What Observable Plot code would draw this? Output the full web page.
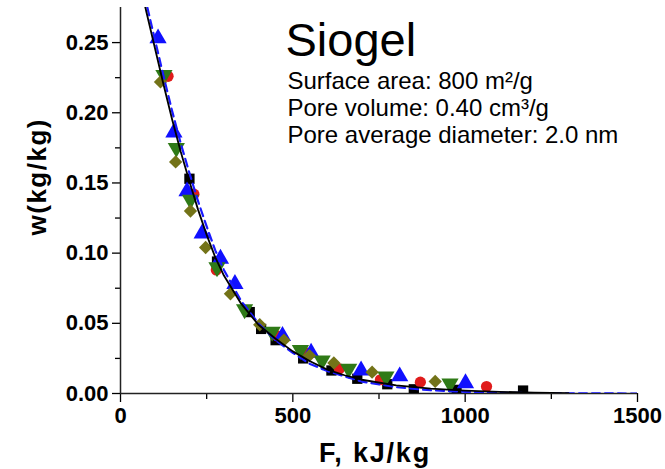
<!DOCTYPE html>
<html>
<head>
<meta charset="utf-8">
<script src="https://cdn.jsdelivr.net/npm/d3@7"></script>
<script src="https://cdn.jsdelivr.net/npm/@observablehq/plot@0.6"></script>
<style>
  html, body { margin: 0; padding: 0; background: #fff; }
  #chart { width: 665px; height: 469px; }
</style>
</head>
<body>
<div id="chart"></div>
<script>
// ---- data ----
const xTicks = [0, 500, 1000, 1500];
const xMinorTicks = [250, 750, 1250];
const yTicks = [0, 0.05, 0.10, 0.15, 0.20, 0.25];
const yMinorTicks = [0.025, 0.075, 0.125, 0.175, 0.225];

const titleText = "Siogel";
const infoLines = ["Surface area: 800 m²/g", "Pore volume: 0.40 cm³/g", "Pore average diameter: 2.0 nm"];
const xTitle = "F, kJ/kg";
const yTitle = "w(kg/kg)";

// black solid fitted curve
const fitF = [60, 75, 100, 125, 150, 175, 200, 225, 250, 275, 300, 350, 400, 450, 500, 550, 600, 650, 700, 800, 900, 1000, 1100, 1200, 1300];
const fitW = [0.288, 0.272, 0.246, 0.220, 0.195, 0.172, 0.151, 0.131, 0.113, 0.097, 0.084, 0.064, 0.049, 0.039, 0.030, 0.023, 0.017, 0.013, 0.0098, 0.0058, 0.0035, 0.0021, 0.0012, 0.0006, 0.0003];

// blue dashed curve
const dashF = [60, 75, 100, 125, 150, 175, 200, 225, 250, 275, 300, 350, 400, 450, 500, 550, 600, 700, 800, 900, 1000, 1100, 1200, 1300, 1400, 1500];
const dashW = [0.293, 0.278, 0.252, 0.226, 0.201, 0.178, 0.157, 0.137, 0.119, 0.102, 0.088, 0.066, 0.050, 0.038, 0.029, 0.021, 0.016, 0.0085, 0.0045, 0.0023, 0.0012, 0.0006, 0.0003, 0.0001, 0.00005, 0];

// black squares
const sqF = [200, 280, 375, 408, 450, 530, 612, 687, 774, 851, 975, 1168];
const sqW = [0.153, 0.094, 0.058, 0.046, 0.038, 0.025, 0.0164, 0.0105, 0.0066, 0.003, 0.0026, 0.0021];

// red circles
const ciF = [138, 213, 278, 455, 538, 635, 754, 870, 1062];
const ciW = [0.226, 0.142, 0.088, 0.041, 0.029, 0.0176, 0.0098, 0.0081, 0.005];

// blue up-triangles
const upF = [109, 155, 193, 237, 290, 332, 470, 553, 698, 810, 1001];
const upW = [0.253, 0.186, 0.144, 0.114, 0.096, 0.078, 0.041, 0.029, 0.0164, 0.0122, 0.0073];

// green down-triangles
const dnF = [126, 162, 203, 280, 360, 440, 522, 585, 662, 770, 956];
const dnW = [0.227, 0.175, 0.138, 0.090, 0.060, 0.044, 0.031, 0.0235, 0.0176, 0.0121, 0.0071];

// olive diamonds
const diF = [116, 160, 203, 247, 319, 404, 474, 548, 619, 730, 913];
const diW = [0.222, 0.165, 0.130, 0.104, 0.071, 0.049, 0.038, 0.027, 0.0218, 0.0152, 0.0086];

const pts = (F, W) => F.map((f, i) => ({F: f, w: W[i]}));

const font = "'Liberation Sans', Arial, Helvetica, sans-serif";

const plot = Plot.plot({
  width: 665,
  height: 469,
  marginLeft: 120,
  marginRight: 28,
  marginTop: 7,
  marginBottom: 76,
  style: {fontFamily: font, fontSize: "22px", color: "#000", background: "#fff", overflow: "visible"},
  x: {domain: [0, 1500], label: null},
  y: {domain: [0, 0.275], label: null},
  marks: [
    // axes
    Plot.axisX({ticks: xMinorTicks, tickSize: 6, tickFormat: () => "", strokeWidth: 1.3}),
    Plot.axisX({ticks: xTicks, tickSize: 9, tickPadding: 5, tickFormat: d => String(d), fontWeight: "bold", fontSize: 22, strokeWidth: 1.3}),
    Plot.axisY({ticks: yMinorTicks, tickSize: 5, tickFormat: () => "", strokeWidth: 1.3}),
    Plot.axisY({ticks: yTicks, tickSize: 8, tickPadding: 4, tickFormat: d3.format(".2f"), fontWeight: "bold", fontSize: 22, strokeWidth: 1.3}),
    Plot.ruleY([0], {x1: 0, x2: 1500, stroke: "#222", strokeWidth: 1.5}),
    Plot.ruleX([0], {y1: 0, y2: 0.275, stroke: "#222", strokeWidth: 1.5}),

    // scatter
    Plot.dot(pts(sqF, sqW), {x: "F", y: "w", symbol: "square", r: 5.8, fill: "#000", stroke: "none", clip: true}),
    Plot.dot(pts(ciF, ciW), {x: "F", y: "w", symbol: "circle", r: 5.6, fill: "#e01b1b", stroke: "none", clip: true}),
    Plot.dot(pts(upF, upW), {x: "F", y: "w", symbol: "triangle", r: 6.4, fill: "#1010ff", stroke: "none", clip: true}),
    Plot.dot(pts(dnF, dnW), {x: "F", y: "w", symbol: "triangle", rotate: 180, r: 6.4, fill: "#2f7a17", stroke: "none", clip: true}),
    Plot.dot(pts(diF, diW), {x: "F", y: "w", symbol: "diamond2", r: 6.0, fill: "#737318", stroke: "none", clip: true}),

    // curves
    Plot.line(pts(dashF, dashW), {x: "F", y: "w", stroke: "#1a1aff", strokeWidth: 2.2, strokeDasharray: "8,5", clip: true}),
    Plot.line(pts(fitF, fitW), {x: "F", y: "w", stroke: "#000", strokeWidth: 1.8, clip: true}),

    // annotations
    Plot.text([titleText], {frameAnchor: "top-left", dx: 165, dy: 48, lineAnchor: "bottom", textAnchor: "start", fontSize: 47, fill: "#000"}),
    Plot.text([infoLines[0]], {frameAnchor: "top-left", dx: 167, dy: 81, lineAnchor: "bottom", textAnchor: "start", fontSize: 24, fill: "#000"}),
    Plot.text([infoLines[1]], {frameAnchor: "top-left", dx: 167, dy: 108, lineAnchor: "bottom", textAnchor: "start", fontSize: 24, fill: "#000"}),
    Plot.text([infoLines[2]], {frameAnchor: "top-left", dx: 167, dy: 135, lineAnchor: "bottom", textAnchor: "start", fontSize: 24, fill: "#000"}),

    // axis titles
    Plot.text([xTitle], {frameAnchor: "bottom", dx: -4, dy: 68, lineAnchor: "bottom", fontSize: 27, fontWeight: "bold", fill: "#000"}),
    Plot.text([yTitle], {frameAnchor: "left", dx: -83, dy: 35, rotate: -90, lineAnchor: "middle", fontSize: 26, fontWeight: "bold", fill: "#000"})
  ]
});

d3.select(plot).selectAll("text").each(function() {
  const t = this.textContent;
  if (t === xTitle) this.setAttribute("letter-spacing", "1.8");
  if (t === yTitle) this.setAttribute("letter-spacing", "1.5");
});

document.getElementById("chart").appendChild(plot);
</script>
</body>
</html>
